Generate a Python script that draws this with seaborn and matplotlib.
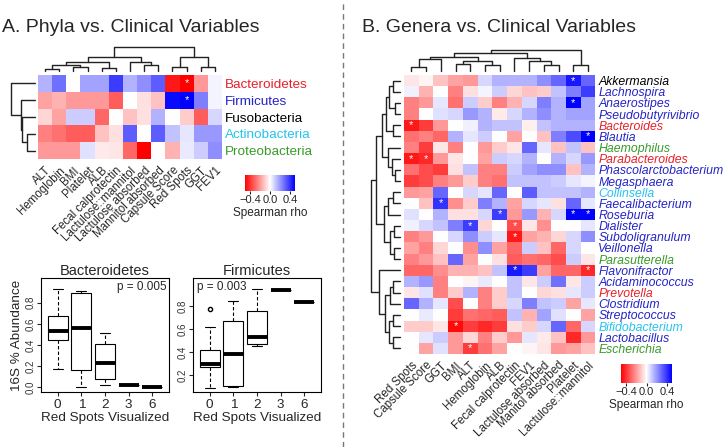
import numpy as np
import pandas as pd
import matplotlib
matplotlib.use('Agg')
import matplotlib.pyplot as plt
from matplotlib.colors import LinearSegmentedColormap
from matplotlib.lines import Line2D
import seaborn as sns

sns.set_style('white')
plt.rcParams['font.family'] = ['Liberation Sans', 'DejaVu Sans']

# ---------------- data ----------------
phyla = ['Bacteroidetes', 'Firmicutes', 'Fusobacteria', 'Actinobacteria', 'Proteobacteria']
phyla_colors = ['#e8202a', '#2323c8', 'black', '#25c3ee', '#3a9a2a']
phyla_vars = ['ALT', 'Hemoglobin', 'BMI', 'Platelet', 'ALB', 'Fecal calprotectin',
              'Lactulose::mannitol', 'Lactulose absorbed', 'Mannitol absorbed',
              'Capsule Score', 'Red Spots', 'GGT', 'FEV1']
phyla_rho = [
    [0.15, 0.28, 0.0, 0.18, 0.18, 0.38, 0.15, 0.22, 0.32, -0.45, -0.5, -0.2, 0.02],
    [-0.18, -0.15, -0.2, -0.2, -0.2, -0.32, 0.0, -0.06, -0.12, 0.48, 0.5, 0.25, 0.02],
    [-0.08, -0.18, 0.1, 0.1, -0.3, 0.0, -0.12, -0.06, 0.15, 0.0, -0.1, -0.32, 0.08],
    [-0.25, -0.28, -0.32, -0.32, -0.12, -0.06, 0.32, 0.0, 0.32, 0.12, 0.05, 0.2, 0.2],
    [-0.2, -0.2, -0.2, 0.06, -0.04, -0.05, -0.3, -0.5, 0.0, -0.15, 0.04, 0.1, 0.22],
]
phyla_stars = [('Bacteroidetes', 'Red Spots'), ('Firmicutes', 'Red Spots')]

genera = ['Akkermansia', 'Lachnospira', 'Anaerostipes', 'Pseudobutyrivibrio', 'Bacteroides',
          'Blautia', 'Haemophilus', 'Parabacteroides', 'Phascolarctobacterium', 'Megasphaera',
          'Collinsella', 'Faecalibacterium', 'Roseburia', 'Dialister', 'Subdoligranulum',
          'Veillonella', 'Parasutterella', 'Flavonifractor', 'Acidaminococcus', 'Prevotella',
          'Clostridium', 'Streptococcus', 'Bifidobacterium', 'Lactobacillus', 'Escherichia']
genera_phylum = ['black', 'F', 'F', 'F', 'B', 'F', 'P', 'B', 'F', 'F', 'A', 'F', 'F', 'F', 'F',
                 'F', 'P', 'F', 'F', 'B', 'F', 'F', 'A', 'F', 'P']
genera_vars = ['Red Spots', 'Capsule Score', 'GGT', 'BMI', 'ALT', 'Hemoglobin', 'ALB',
               'Fecal calprotectin', 'FEV1', 'Lactulose absorbed', 'Manitol absorbed',
               'Platelet', 'Lactulose::mannitol']
genera_rho = [
    [-0.05, -0.02, -0.12, -0.18, -0.2, 0.08, 0.15, 0.15, 0.15, 0.22, 0.3, 0.45, 0.3],
    [0.03, -0.15, 0.0, -0.25, -0.06, 0.02, 0.1, -0.08, -0.12, -0.1, 0.12, 0.25, 0.38],
    [-0.25, -0.2, 0.05, -0.28, 0.1, -0.1, -0.25, -0.15, 0.08, 0.25, 0.15, 0.5, 0.18],
    [-0.25, 0.0, 0.06, 0.08, 0.2, 0.15, -0.04, 0.08, 0.15, 0.22, 0.15, 0.18, 0.18],
    [-0.45, -0.38, -0.2, 0.0, 0.03, 0.15, 0.12, 0.12, -0.03, 0.12, 0.15, 0.15, 0.15],
    [-0.28, -0.25, -0.3, 0.15, 0.05, 0.1, 0.0, -0.18, 0.0, -0.12, 0.25, 0.35, 0.5],
    [-0.25, -0.38, -0.05, -0.25, 0.0, -0.2, -0.1, -0.05, 0.3, 0.05, -0.12, 0.12, -0.12],
    [-0.45, -0.42, -0.2, -0.05, 0.0, -0.18, 0.1, 0.08, 0.15, 0.0, 0.15, 0.08, 0.2],
    [-0.28, -0.35, -0.38, -0.06, 0.12, -0.25, -0.25, 0.1, 0.18, 0.22, 0.22, -0.12, 0.15],
    [-0.38, -0.35, -0.25, -0.2, -0.1, -0.25, -0.28, 0.12, 0.12, 0.12, 0.1, 0.05, 0.02],
    [-0.2, -0.18, 0.3, 0.0, 0.08, 0.05, 0.3, 0.0, 0.32, 0.12, 0.12, 0.12, 0.15],
    [0.0, -0.12, 0.4, -0.22, -0.1, 0.25, 0.15, -0.18, 0.08, 0.05, -0.06, 0.3, 0.05],
    [0.06, 0.0, 0.15, -0.06, -0.06, 0.08, 0.38, -0.2, 0.2, -0.15, 0.08, 0.5, 0.5],
    [0.03, 0.08, 0.12, 0.25, 0.38, -0.08, 0.0, -0.35, -0.05, -0.22, 0.0, 0.0, 0.05],
    [-0.25, -0.2, 0.0, 0.08, 0.22, 0.1, 0.05, -0.45, -0.18, -0.15, -0.08, 0.08, 0.22],
    [-0.18, -0.25, -0.08, 0.0, -0.22, 0.22, -0.18, -0.3, 0.1, -0.12, -0.3, 0.08, 0.0],
    [-0.25, -0.2, -0.12, 0.3, -0.18, 0.0, -0.06, -0.32, -0.28, -0.3, -0.35, 0.1, -0.05],
    [-0.3, -0.3, -0.22, -0.15, -0.15, -0.12, 0.12, 0.45, 0.38, -0.18, -0.3, -0.3, -0.42],
    [0.15, 0.2, -0.25, 0.0, -0.02, 0.04, 0.0, 0.12, -0.05, 0.1, 0.28, -0.05, 0.1],
    [-0.05, 0.06, -0.25, -0.1, 0.15, -0.25, -0.1, 0.12, 0.0, -0.08, -0.06, 0.05, 0.1],
    [0.3, 0.15, 0.05, -0.35, 0.0, -0.25, -0.1, 0.08, 0.25, 0.12, 0.1, -0.18, 0.05],
    [0.0, 0.04, 0.0, -0.38, -0.28, -0.3, -0.32, 0.12, -0.15, 0.18, 0.06, 0.0, -0.18],
    [-0.1, -0.1, -0.05, -0.48, -0.38, -0.42, -0.38, -0.06, -0.1, 0.08, 0.3, -0.3, 0.08],
    [0.0, 0.05, 0.1, -0.2, -0.08, -0.25, -0.1, -0.2, 0.05, -0.04, -0.12, -0.42, -0.2],
    [0.0, -0.18, 0.06, -0.2, -0.38, -0.28, -0.18, 0.0, -0.02, -0.05, -0.2, -0.18, -0.12],
]
genera_stars = [('Akkermansia', 'Platelet'), ('Anaerostipes', 'Platelet'),
                ('Bacteroides', 'Red Spots'), ('Blautia', 'Lactulose::mannitol'),
                ('Parabacteroides', 'Red Spots'), ('Parabacteroides', 'Capsule Score'),
                ('Faecalibacterium', 'GGT'), ('Roseburia', 'ALB'), ('Roseburia', 'Platelet'),
                ('Roseburia', 'Lactulose::mannitol'), ('Dialister', 'ALT'),
                ('Dialister', 'Fecal calprotectin'), ('Subdoligranulum', 'Fecal calprotectin'),
                ('Flavonifractor', 'Fecal calprotectin'), ('Flavonifractor', 'Lactulose::mannitol'),
                ('Bifidobacterium', 'BMI'), ('Escherichia', 'ALT')]

# dendrograms: (left, right, height); leaves are display positions
phyla_col_tree = (((((0, 1, 2.5), (2, 3, 4), 6), (4, 5, 3.5), 9), (6, (7, 8, 6), 9.5), 14.5),
                  ((9, 10, 4), (11, 12, 4.5), 14.5), 24)
phyla_row_tree = (0, (1, (2, (3, 4, 8), 13), 14), 24)
genera_col_tree = (((((0, 1, 4.5), 2, 12), ((3, 4, 7), (5, 6, 6), 10), 14),
                    (7, (8, (9, 10, 6), 10), 13), 18), (11, 12, 6), 21)
genera_row_tree = (
    (((((0, 1, 7), (2, 3, 5), 11), (4, 5, 7), 14), (6, (7, (8, 9, 5), 8), 12), 18),
     (((10, 11, 7), 12, 12), ((13, 14, 6), (15, 16, 6), 10), 16), 24),
    (17, (((18, 19, 7), 20, 10), ((21, 22, 7), (23, 24, 7), 11), 15), 21), 29)

# box plots: relative abundance by number of red spots
red_spots = ['0', '1', '2', '3', '6']
bacteroidetes_abund = [[0.17, 0.45, 0.53, 0.67, 0.93],
                       [0.0, 0.16, 0.56, 0.89, 0.91],
                       [0.02, 0.08, 0.23, 0.41, 0.51],
                       [0.02],
                       [0.003]]
firmicutes_abund = [[0.09, 0.2, 0.27, 0.28, 0.30, 0.35, 0.42, 0.62, 0.77],
                    [0.10, 0.11, 0.38, 0.67, 0.84],
                    [0.45, 0.47, 0.53, 0.76, 0.945],
                    [0.936],
                    [0.838]]
p_values = ['p = 0.005', 'p = 0.003']

# ---------------- layout helpers ----------------
W, H = 725, 447
phylum_color = {'F': '#2323c8', 'B': '#e8202a', 'P': '#3a9a2a', 'A': '#25c3ee', 'black': 'black'}
rho_cmap = LinearSegmentedColormap.from_list('rwb', ['red', 'white', 'blue'])


def px_box(x0, y0, x1, y1):
    return [x0 / W, 1 - y1 / H, (x1 - x0) / W, (y1 - y0) / H]


def draw_tree(ax, node, orient):
    if isinstance(node, int):
        return node + 0.5, 0.0
    left, right, h = node
    p1, h1 = draw_tree(ax, left, orient)
    p2, h2 = draw_tree(ax, right, orient)
    pos, hts = [p1, p1, p2, p2], [h1, h, h, h2]
    if orient == 'top':
        ax.plot(pos, hts, color='#222222', lw=1)
    else:
        ax.plot(hts, pos, color='#222222', lw=1)
    return (p1 + p2) / 2, h


def heat(ax, cax, rho, rows, cols, stars, row_colors, row_fs, italic):
    df = pd.DataFrame(rho, index=rows, columns=cols)
    ann = pd.DataFrame('', index=rows, columns=cols)
    for r, c in stars:
        ann.loc[r, c] = '*'
    sns.heatmap(df, ax=ax, cmap=rho_cmap, vmin=-0.5, vmax=0.5, annot=ann, fmt='',
                annot_kws={'color': 'white', 'fontsize': 8},
                cbar_ax=cax, cbar_kws={'orientation': 'horizontal', 'ticks': [-0.4, 0, 0.4]},
                xticklabels=True, yticklabels=True)
    ax.yaxis.tick_right()
    ax.set_yticklabels(rows, rotation=0, fontsize=row_fs,
                       fontstyle='italic' if italic else 'normal')
    for t, c in zip(ax.get_yticklabels(), row_colors):
        t.set_color(c)
    ax.set_xticklabels(cols, rotation=45, ha='right', rotation_mode='anchor', fontsize=8.3)
    ax.tick_params(axis='both', length=0)
    ax.tick_params(axis='y', pad=2)
    ax.tick_params(axis='x', pad=4)
    ax.set_xlabel('')
    ax.set_ylabel('')
    cax.tick_params(labelsize=8, length=2, pad=1)
    cax.set_xlabel('Spearman rho', fontsize=8.5, labelpad=1)
    for s in cax.spines.values():
        s.set_visible(False)


fig = plt.figure(figsize=(W / 100, H / 100), dpi=100)

# ---------------- panel A ----------------
fig.text(2 / W, 1 - 27 / H, 'A. Phyla vs. Clinical Variables', fontsize=14, va='center')
ax_ha = fig.add_axes(px_box(38, 75, 222, 159))
cax_a = fig.add_axes(px_box(245, 175, 295, 191))
heat(ax_ha, cax_a, phyla_rho, phyla, phyla_vars, phyla_stars, phyla_colors, 9.7, False)

ax_dc = fig.add_axes(px_box(38, 45, 222, 75))
draw_tree(ax_dc, phyla_col_tree, 'top')
ax_dc.set_xlim(0, len(phyla_vars))
ax_dc.set_ylim(-3.5, 26)
ax_dc.axis('off')

ax_dr = fig.add_axes(px_box(8, 75, 38, 159))
draw_tree(ax_dr, phyla_row_tree, 'left')
ax_dr.set_ylim(len(phyla), 0)
ax_dr.set_xlim(27, -3)
ax_dr.axis('off')

# box plots
for i, (name, vals) in enumerate([('Bacteroidetes', bacteroidetes_abund),
                                  ('Firmicutes', firmicutes_abund)]):
    long = pd.DataFrame([(s, v) for s, grp in zip(red_spots, vals) for v in grp],
                        columns=['spots', 'abund'])
    x0 = 41 if i == 0 else 193
    ax = fig.add_axes(px_box(x0, 278, x0 + 128, 392))
    sns.boxplot(data=long, x='spots', y='abund', order=red_spots, ax=ax, color='white',
                linecolor='black', linewidth=0.8, width=0.85, whis=1.5, fliersize=3,
                medianprops={'linewidth': 2.8, 'color': 'black'},
                whiskerprops={'linestyle': (0, (3, 2))},
                flierprops={'marker': 'o', 'markerfacecolor': 'none',
                            'markeredgecolor': 'black', 'markersize': 3})
    ax.set_xlim(-0.7, 4.7)
    if i == 0:
        ax.set_ylim(-0.044, 1.032)
        ax.set_yticks([0, 0.2, 0.4, 0.6, 0.8])
        ax.set_ylabel('16S % Abundance', fontsize=9.7, labelpad=2)
        ax.text(0.98, 0.97, p_values[0], transform=ax.transAxes, ha='right', va='top',
                fontsize=8.5)
    else:
        ax.set_ylim(0.055, 1.042)
        ax.set_yticks([0.2, 0.4, 0.6, 0.8])
        ax.set_ylabel('')
        ax.text(0.03, 0.97, p_values[1], transform=ax.transAxes, ha='left', va='top',
                fontsize=8.5)
    ax.set_yticklabels([f'{t:.1f}' for t in ax.get_yticks()], rotation=90, va='center',
                       fontsize=7, color='#333333')
    ax.set_xlabel('Red Spots Visualized', fontsize=9.7, labelpad=1)
    ax.set_title(name, fontsize=10.5, pad=2)
    ax.tick_params(axis='x', labelsize=9.7, length=3, pad=2, direction='out', bottom=True)
    ax.tick_params(axis='y', length=3, pad=1, direction='out', left=True)
    for s in ax.spines.values():
        s.set_visible(True)
        s.set_color('black')
        s.set_linewidth(0.8)

# ---------------- panel B ----------------
fig.text(362 / W, 1 - 27 / H, 'B. Genera vs. Clinical Variables', fontsize=14, va='center')
ax_hb = fig.add_axes(px_box(404, 75, 595.5, 354))
cax_b = fig.add_axes(px_box(621, 364, 672, 383))
heat(ax_hb, cax_b, genera_rho, genera, genera_vars, genera_stars,
     [phylum_color[p] for p in genera_phylum], 8.8, True)

ax_gc = fig.add_axes(px_box(404, 47, 595.5, 75))
draw_tree(ax_gc, genera_col_tree, 'top')
ax_gc.set_xlim(0, len(genera_vars))
ax_gc.set_ylim(-3.5, 24)
ax_gc.axis('off')

ax_gr = fig.add_axes(px_box(368, 75, 404, 354))
draw_tree(ax_gr, genera_row_tree, 'left')
ax_gr.set_ylim(len(genera), 0)
ax_gr.set_xlim(32, -3.5)
ax_gr.axis('off')

# dashed separator between the panels
fig.add_artist(Line2D([343 / W, 343 / W], [0, 1], transform=fig.transFigure,
                      color='#777777', lw=1, linestyle=(0, (4, 3))))

fig.savefig('out.png', dpi=100)
